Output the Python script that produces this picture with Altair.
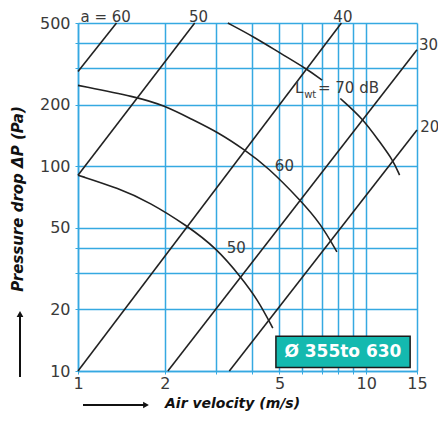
import altair as alt
import pandas as pd

# ---------------- axis grid / labels ----------------
X_GRID = [1, 2, 3, 4, 5, 6, 7, 8, 9, 10, 15]
X_LABELED = [1, 2, 5, 10, 15]
Y_GRID = [10, 20, 30, 40, 50, 100, 200, 300, 400, 500]
Y_LABELED = [10, 20, 50, 100, 200, 500]

# ---------------- iso "a" lines (straight in log-log), read end points ----------------
a60_v = [1.0, 1.36]
a60_p = [290, 500]
a50_v = [1.0, 2.54]
a50_p = [90.4, 500]
a40_v = [1.0, 8.2]
a40_p = [10, 500]
a30_v = [2.05, 15]
a30_p = [10, 370]
a20_v = [3.35, 15]
a20_p = [10, 150]

# ---------------- sound power curves Lwt ----------------
l70a_v = [3.31, 4.09, 5.05, 6.25, 7.03]
l70a_p = [500, 427, 355, 297, 263]
l70b_v = [8.13, 9.72, 11.1, 12.39, 13.05]
l70b_p = [214, 171, 132, 107, 90.4]
l60_v = [1.0, 1.59, 1.99, 2.49, 3.07, 3.79, 4.55, 5.92, 6.94, 7.91]
l60_p = [248, 218, 198, 169, 146, 120, 99, 68, 52.5, 38.2]
l50_v = [1.0, 1.39, 1.77, 2.39, 3.02, 3.67, 4.21, 4.74]
l50_p = [90.4, 77.8, 66.7, 51.2, 39.8, 28.8, 22.2, 16.2]

# ---------------- labels ----------------
center_text = ["a = 60", "50", "40", "60", "50"]
center_v = [1.247, 2.62, 8.30, 5.20, 3.54]
center_p = [536, 536, 536, 100, 39.8]
left_text = ["30", "20"]
left_v = [15.25, 15.4]
left_p = [389, 155.6]

box_text = "Ø 355to 630"
box_v = [4.86, 14.2]
box_p = [10.4, 14.8]
box_label_v = 8.30
box_label_p = 12.4

GRID_COLOR = "#35a9e1"
LINE_COLOR = "#222222"
TXT = "#3a3a3a"
FONT = "DejaVu Sans"

a_series = [
    ("a60", a60_v, a60_p), ("a50", a50_v, a50_p), ("a40", a40_v, a40_p),
    ("a30", a30_v, a30_p), ("a20", a20_v, a20_p),
]
c_series = [
    ("L70a", l70a_v, l70a_p), ("L70b", l70b_v, l70b_p),
    ("L60", l60_v, l60_p), ("L50", l50_v, l50_p),
]


def to_df(series):
    rows = []
    for name, vs, ps in series:
        for v, p in zip(vs, ps):
            rows.append({"s": name, "v": v, "p": p})
    return pd.DataFrame(rows)


def lab_expr(vals):
    arr = ",".join(str(v) for v in vals)
    return f"indexof([{arr}], datum.value) >= 0 ? format(datum.value, 'd') : ''"


def X(field="v"):
    return alt.X(
        f"{field}:Q",
        scale=alt.Scale(type="log", domain=[1, 15], nice=False, zero=False),
        axis=alt.Axis(values=X_GRID, labelExpr=lab_expr(X_LABELED), title=None,
                      grid=True, tickSize=3, labelPadding=1, labelFlush=False,
                      labelOverlap=False),
    )


def Y(field="p"):
    return alt.Y(
        f"{field}:Q",
        scale=alt.Scale(type="log", domain=[10, 500], nice=False, zero=False),
        axis=alt.Axis(values=Y_GRID, labelExpr=lab_expr(Y_LABELED), title=None,
                      grid=True, tickSize=3, labelPadding=5, labelFlush=False,
                      labelOverlap=False),
    )


a_lines = alt.Chart(to_df(a_series)).mark_line(
    color=LINE_COLOR, strokeWidth=1.6
).encode(x=X(), y=Y(), detail="s:N")

curves = alt.Chart(to_df(c_series)).mark_line(
    color=LINE_COLOR, strokeWidth=1.6, interpolate="basis"
).encode(x=X(), y=Y(), detail="s:N")

center_df = pd.DataFrame({"t": center_text, "v": center_v, "p": center_p})
center_labels = alt.Chart(center_df).mark_text(
    font=FONT, fontSize=15, color=TXT, align="center", baseline="middle"
).encode(x=X(), y=Y(), text="t:N")

left_df = pd.DataFrame({"t": left_text, "v": left_v, "p": left_p})
left_labels = alt.Chart(left_df).mark_text(
    font=FONT, fontSize=15, color=TXT, align="left", baseline="middle"
).encode(x=X(), y=Y(), text="t:N")

# "Lwt = 70 dB" with subscript
lwt_df = pd.DataFrame({"t": ["L", "= 70 dB"], "v": [5.66, 6.8], "p": [240, 240]})
lwt_main = alt.Chart(lwt_df).mark_text(
    font=FONT, fontSize=15, color=TXT, align="left", baseline="middle"
).encode(x=X(), y=Y(), text="t:N")
sub_df = pd.DataFrame({"t": ["wt"], "v": [6.09], "p": [222]})
lwt_sub = alt.Chart(sub_df).mark_text(
    font=FONT, fontSize=10, color=TXT, align="left", baseline="middle"
).encode(x=X(), y=Y(), text="t:N")

box_df = pd.DataFrame({"v": [box_v[0]], "v2": [box_v[1]], "p": [box_p[0]], "p2": [box_p[1]]})
box = alt.Chart(box_df).mark_rect(
    fill="#14b9af", stroke="#1a1a1a", strokeWidth=1.5
).encode(x=X(), x2="v2:Q", y=Y(), y2="p2:Q")
box_lbl_df = pd.DataFrame({"t": [box_text], "v": [box_label_v], "p": [box_label_p]})
box_label = alt.Chart(box_lbl_df).mark_text(
    font=FONT, fontSize=17, fontWeight="bold", color="white", align="center", baseline="middle"
).encode(x=X(), y=Y(), text="t:N")

one = pd.DataFrame({"k": [0]})
ytitle = alt.Chart(one).mark_text(
    text="Pressure drop ΔP (Pa)", font=FONT, fontSize=15, fontWeight="bold",
    fontStyle="italic", color="#111", angle=270, align="center", baseline="middle"
).encode(x=alt.value(-60), y=alt.value(176))
xtitle = alt.Chart(one).mark_text(
    text="Air velocity (m/s)", font=FONT, fontSize=14, fontWeight="bold",
    fontStyle="italic", color="#111", align="left", baseline="middle"
).encode(x=alt.value(87), y=alt.value(381))

yarrow = alt.Chart(one).mark_rule(color="#111", strokeWidth=2).encode(
    x=alt.value(-58), y=alt.value(354), y2=alt.value(292))
yhead = alt.Chart(one).mark_point(
    shape="triangle-up", filled=True, color="#111", size=45, opacity=1
).encode(x=alt.value(-58), y=alt.value(291))
xarrow = alt.Chart(one).mark_rule(color="#111", strokeWidth=2).encode(
    x=alt.value(5), x2=alt.value(67), y=alt.value(382))
xhead = alt.Chart(one).mark_point(
    shape="triangle-right", filled=True, color="#111", size=45, opacity=1
).encode(x=alt.value(68), y=alt.value(382))

chart = alt.layer(
    a_lines, curves, center_labels, left_labels, lwt_main, lwt_sub, box, box_label,
    ytitle, xtitle, yarrow, yhead, xarrow, xhead
).properties(
    width=339, height=348,
    autosize=alt.AutoSizeParams(type="none"),
    padding={"left": 70, "top": 15, "right": 21, "bottom": 43},
).configure_view(strokeWidth=0).configure_axis(
    gridColor=GRID_COLOR, gridWidth=1.5, gridOpacity=1,
    domainColor=GRID_COLOR, domainWidth=1.5,
    tickColor=GRID_COLOR, tickWidth=1,
    labelFont=FONT, labelFontSize=16, labelColor=TXT,
)

chart.save("out.html", embed_options={"renderer": "svg", "actions": False})
